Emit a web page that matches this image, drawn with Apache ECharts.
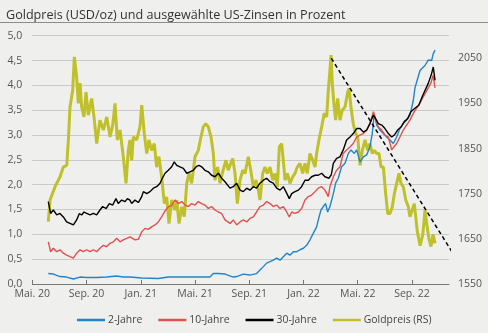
<!DOCTYPE html>
<html><head><meta charset="utf-8">
<script src="https://cdn.jsdelivr.net/npm/echarts@6/dist/echarts.min.js"></script>
<style>html,body{margin:0;padding:0;background:#efefee;}#c{width:488px;height:333px;}</style>
</head><body><div id="c"></div>
<script>
// x values: months since 1 May 2020
const xTickLabels = ["Mai. 20","Sep. 20","Jan. 21","Mai. 21","Sep. 21","Jan. 22","Mai. 22","Sep. 22"];
const seriesNames = ["2-Jahre","10-Jahre","30-Jahre","Goldpreis (RS)"];

const twoYear = [[1.18,0.21],[1.55,0.2],[2.04,0.15],[2.53,0.14],[3.03,0.1],[3.52,0.14],[4.01,0.13],[4.75,0.13],[5.48,0.14],[6.22,0.16],[6.71,0.14],[7.2,0.14],[8.07,0.12],[9.29,0.11],[10.03,0.14],[11.26,0.14],[12.24,0.14],[13.1,0.14],[13.35,0.21],[13.72,0.21],[14.21,0.2],[14.33,0.2],[14.82,0.14],[15.07,0.15],[15.56,0.2],[16.05,0.18],[16.54,0.21],[16.79,0.28],[17.04,0.35],[17.28,0.42],[17.53,0.45],[17.77,0.48],[18.02,0.52],[18.27,0.48],[18.51,0.55],[18.76,0.62],[19.0,0.58],[19.25,0.65],[19.5,0.65],[19.74,0.69],[19.99,0.72],[20.23,0.78],[20.48,0.89],[20.72,1.02],[20.97,1.15],[21.09,1.29],[21.29,1.49],[21.46,1.56],[21.63,1.62],[21.78,1.45],[21.95,1.56],[22.2,1.82],[22.37,2.03],[22.56,2.13],[22.81,2.36],[23.06,2.43],[23.31,2.63],[23.5,2.70],[23.75,2.63],[23.92,2.70],[24.17,2.46],[24.41,2.56],[24.66,2.60],[24.9,2.76],[25.07,3.03],[25.22,3.43],[25.4,3.20],[25.64,3.10],[25.89,3.03],[26.13,2.96],[26.38,2.90],[26.62,2.83],[26.87,2.96],[27.11,3.13],[27.36,3.23],[27.6,3.30],[27.85,3.40],[28.1,3.70],[28.22,3.95],[28.59,4.3],[28.96,4.4],[29.2,4.51],[29.45,4.5],[29.57,4.64],[29.7,4.71]];

const tenYear = [[1.18,0.85],[1.35,0.65],[1.55,0.72],[1.80,0.65],[2.04,0.69],[2.29,0.62],[2.53,0.58],[2.78,0.55],[3.03,0.52],[3.27,0.62],[3.52,0.69],[3.76,0.65],[4.01,0.69],[4.26,0.65],[4.5,0.69],[4.75,0.65],[4.99,0.72],[5.24,0.78],[5.48,0.75],[5.73,0.82],[5.98,0.85],[6.22,0.92],[6.47,0.85],[6.71,0.89],[6.96,0.92],[7.2,0.95],[7.33,0.92],[7.57,0.89],[7.82,0.9],[8.07,1.05],[8.31,1.12],[8.56,1.1],[8.8,1.15],[9.05,1.19],[9.29,1.25],[9.54,1.35],[9.74,1.45],[9.91,1.52],[10.08,1.56],[10.28,1.59],[10.52,1.69],[10.77,1.62],[11.02,1.66],[11.26,1.59],[11.51,1.56],[11.75,1.62],[12.0,1.59],[12.24,1.66],[12.49,1.62],[12.73,1.59],[12.98,1.52],[13.22,1.56],[13.47,1.49],[13.72,1.45],[13.96,1.42],[14.21,1.29],[14.33,1.25],[14.58,1.22],[14.82,1.29],[15.07,1.19],[15.32,1.25],[15.56,1.29],[15.81,1.25],[16.05,1.32],[16.3,1.35],[16.54,1.45],[16.79,1.56],[17.04,1.59],[17.28,1.66],[17.53,1.62],[17.77,1.56],[18.02,1.59],[18.27,1.52],[18.51,1.56],[18.76,1.45],[18.95,1.35],[19.13,1.45],[19.37,1.42],[19.62,1.45],[19.86,1.52],[20.11,1.69],[20.36,1.76],[20.6,1.79],[20.85,1.86],[21.09,1.93],[21.34,1.96],[21.58,1.89],[21.83,1.76],[21.95,1.96],[22.2,2.16],[22.44,2.29],[22.69,2.36],[22.93,2.63],[23.18,2.70],[23.43,2.76],[23.67,2.83],[23.92,2.96],[24.17,3.0],[24.41,3.03],[24.66,3.10],[24.9,3.23],[25.15,3.47],[25.32,3.30],[25.52,3.16],[25.77,3.10],[26.01,3.0],[26.26,2.96],[26.5,2.70],[26.62,2.66],[26.87,2.83],[27.11,2.96],[27.36,3.10],[27.6,3.20],[27.85,3.30],[28.17,3.47],[28.5,3.6],[28.8,3.75],[29.2,3.95],[29.4,4.05],[29.55,4.2],[29.7,3.95]];

const thirtyYear = [[1.18,1.66],[1.35,1.42],[1.55,1.49],[1.80,1.39],[2.04,1.42],[2.29,1.35],[2.53,1.25],[2.78,1.22],[3.03,1.19],[3.27,1.29],[3.47,1.42],[3.64,1.39],[3.81,1.45],[4.01,1.42],[4.26,1.39],[4.5,1.42],[4.75,1.39],[4.99,1.49],[5.19,1.56],[5.44,1.52],[5.68,1.62],[5.93,1.59],[6.17,1.72],[6.34,1.62],[6.59,1.69],[6.84,1.66],[7.01,1.72],[7.2,1.69],[7.33,1.62],[7.57,1.69],[7.82,1.64],[8.07,1.76],[8.19,1.86],[8.44,1.82],[8.68,1.86],[8.93,1.93],[9.17,1.96],[9.42,2.03],[9.59,2.13],[9.79,2.23],[10.03,2.29],[10.28,2.36],[10.47,2.46],[10.65,2.39],[10.89,2.36],[11.14,2.33],[11.39,2.23],[11.63,2.26],[11.87,2.29],[12.12,2.37],[12.29,2.39],[12.49,2.36],[12.73,2.29],[12.98,2.26],[13.22,2.19],[13.47,2.16],[13.72,2.23],[13.96,2.13],[14.21,2.06],[14.33,2.03],[14.58,1.93],[14.82,1.96],[15.07,2.03],[15.32,1.89],[15.56,1.86],[15.81,1.93],[16.05,1.89],[16.3,1.96],[16.54,1.93],[16.79,2.03],[17.04,2.09],[17.28,2.13],[17.53,2.06],[17.77,2.03],[18.02,1.93],[18.27,1.89],[18.51,1.96],[18.76,1.83],[18.95,1.72],[19.13,1.82],[19.37,1.86],[19.62,1.89],[19.86,1.96],[20.11,2.09],[20.36,2.09],[20.6,2.16],[20.85,2.19],[21.09,2.19],[21.34,2.23],[21.58,2.16],[21.88,2.13],[22.05,2.2],[22.2,2.43],[22.44,2.53],[22.69,2.56],[22.93,2.70],[23.18,2.90],[23.43,2.96],[23.67,3.03],[23.92,3.13],[24.17,3.13],[24.41,3.06],[24.66,3.10],[24.9,3.23],[25.15,3.40],[25.32,3.33],[25.52,3.23],[25.77,3.20],[26.01,3.13],[26.26,3.03],[26.5,2.96],[26.7,3.0],[26.94,3.10],[27.19,3.16],[27.43,3.27],[27.68,3.33],[27.92,3.47],[28.17,3.53],[28.5,3.6],[28.8,3.8],[29.2,4.04],[29.45,4.24],[29.57,4.37],[29.7,4.1]];

const gold = [[1.18,1688],[1.31,1736],[1.67,1765],[2.04,1787],[2.29,1809],[2.54,1813],[2.66,1869],[2.78,1942],[2.98,1979],[3.10,2053],[3.27,2009],[3.39,1950],[3.52,1995],[3.64,1942],[3.81,1920],[3.96,1975],[4.13,1924],[4.38,1961],[4.55,1920],[4.75,1861],[4.99,1913],[5.24,1891],[5.49,1920],[5.73,1876],[5.93,1902],[6.10,1950],[6.27,1869],[6.47,1891],[6.71,1832],[6.91,1773],[7.08,1846],[7.2,1869],[7.33,1824],[7.45,1876],[7.7,1869],[7.94,1898],[8.07,1946],[8.26,1883],[8.44,1839],[8.6,1869],[8.8,1846],[9.0,1861],[9.17,1809],[9.34,1832],[9.54,1787],[9.74,1728],[9.91,1743],[10.08,1684],[10.28,1736],[10.52,1714],[10.65,1736],[10.82,1684],[11.02,1721],[11.21,1699],[11.39,1773],[11.56,1795],[11.75,1773],[12.0,1832],[12.24,1846],[12.44,1876],[12.61,1898],[12.79,1905],[12.98,1898],[13.18,1876],[13.35,1839],[13.47,1780],[13.67,1809],[13.84,1773],[14.01,1795],[14.21,1817],[14.28,1824],[14.45,1802],[14.63,1817],[14.78,1828],[14.95,1795],[15.12,1728],[15.32,1780],[15.52,1802],[15.69,1795],[15.93,1832],[16.11,1802],[16.3,1765],[16.5,1780],[16.67,1758],[16.79,1736],[16.99,1795],[17.16,1809],[17.33,1795],[17.53,1809],[17.73,1780],[17.9,1795],[18.07,1765],[18.22,1854],[18.39,1861],[18.51,1824],[18.64,1780],[18.81,1795],[19.0,1773],[19.2,1787],[19.37,1795],[19.54,1809],[19.74,1817],[19.94,1795],[20.11,1817],[20.28,1795],[20.48,1839],[20.68,1824],[20.85,1809],[20.97,1839],[21.14,1869],[21.34,1898],[21.53,1928],[21.71,1920],[21.83,1979],[21.95,2023],[22.03,2057],[22.12,1994],[22.27,1942],[22.37,1913],[22.52,1961],[22.69,1913],[22.86,1935],[23.06,1942],[23.26,1975],[23.36,1983],[23.5,1942],[23.67,1905],[23.85,1883],[24.0,1876],[24.17,1813],[24.34,1846],[24.54,1869],[24.73,1846],[24.9,1861],[25.07,1839],[25.22,1846],[25.4,1839],[25.57,1839],[25.72,1809],[25.89,1809],[26.06,1750],[26.21,1706],[26.38,1706],[26.55,1721],[26.7,1750],[26.87,1773],[27.04,1795],[27.19,1773],[27.36,1765],[27.54,1736],[27.73,1721],[27.85,1699],[28.02,1714],[28.17,1728],[28.4,1665],[28.6,1635],[28.8,1660],[28.96,1714],[29.1,1680],[29.25,1650],[29.4,1633],[29.55,1660],[29.7,1640]];

const goldTrend = [[22.05,2050],[31.6,1590]];

const FONT = "Open Sans";
const chart = echarts.init(document.getElementById('c'), null, {renderer:'canvas'});
chart.setOption({
  backgroundColor: '#efefee',
  animation: false,
  textStyle: {fontFamily: FONT},
  title: {text: 'Goldpreis (USD/oz) und ausgewählte US-Zinsen in Prozent', left: 1, top: 4,
    textStyle: {fontFamily: FONT, fontSize: 12.6, fontWeight: 'normal', color: '#333'}},
  graphic: [{type:'line', shape:{x1:0,y1:22.5,x2:488,y2:22.5}, style:{stroke:'#8c8c8c', lineWidth:1}}],
  grid: {left: 32.3, right: 39, top: 35.7, bottom: 49, containLabel: false},
  legend: {bottom: 3, left: 72, data: seriesNames, icon: 'rect', itemWidth: 28, itemHeight: 2.5,
    itemGap: 16, textStyle: {fontFamily: FONT, fontSize: 10.4, color: '#444', padding:[0,0,0,-2]}},
  xAxis: {type: 'value', min: 0, max: 30.73, interval: 4,
    axisLine: {lineStyle: {color: '#777'}},
    axisTick: {inside: true, length: 4, lineStyle: {color: '#777'}},
    splitLine: {show: false},
    axisLabel: {color: '#555', fontSize: 10.5, margin: 5, showMaxLabel: false,
      formatter: v => xTickLabels[Math.round(v/4)] || ''}},
  yAxis: [
    {type: 'value', min: 0, max: 5, interval: 0.5, position: 'left',
      axisLine: {show: false}, axisTick: {show: false},
      splitLine: {lineStyle: {color: '#c9c9c9', width: 1}},
      axisLabel: {color: '#555', fontSize: 10.5, margin: 10, formatter: v => v.toFixed(1).replace('.', ',')}},
    {type: 'value', min: 1550, max: 2100, interval: 100, position: 'right',
      axisLine: {show: false}, axisTick: {show: false}, splitLine: {show: false},
      axisLabel: {color: '#555', fontSize: 10.5, margin: 9, showMaxLabel: false, formatter: v => String(v)}}
  ],
  series: [
    {name: seriesNames[3], type: 'line', yAxisIndex: 1, data: gold, showSymbol: false,
      lineStyle: {color: '#bfc02a', width: 3}, itemStyle: {color: '#bfc02a'}},
    {name: seriesNames[0], type: 'line', data: twoYear, showSymbol: false,
      lineStyle: {color: '#2185c9', width: 1.4}, itemStyle: {color: '#2185c9'}},
    {name: seriesNames[1], type: 'line', data: tenYear, showSymbol: false,
      lineStyle: {color: '#e3504c', width: 1.4}, itemStyle: {color: '#e3504c'}},
    {name: seriesNames[2], type: 'line', data: thirtyYear, showSymbol: false,
      lineStyle: {color: '#000000', width: 1.4}, itemStyle: {color: '#000000'}},
    {name: 'Trend', type: 'line', yAxisIndex: 1, data: goldTrend, showSymbol: false, clip: false,
      lineStyle: {color: '#000', width: 1.5, type: [4, 3]}, z: 5}
  ]
});
</script></body></html>
